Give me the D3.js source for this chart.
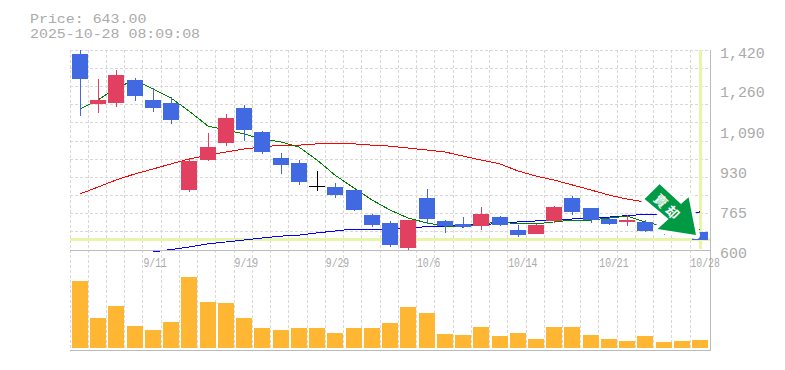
<!DOCTYPE html>
<html>
<head>
<meta charset="utf-8">
<script src="https://cdn.jsdelivr.net/npm/d3@7"></script>
<style>
    body { margin: 0; background: #fff; }
    svg { display: block; }
    text { font-family: "Liberation Mono", monospace; fill: #aaa; }
    .title { font-size: 13px; }
    .yAxis text { font-size: 14px; }
    .xAxis text { font-size: 13px; }
</style>
</head>
<body>
<div id="chart_wrapper"></div>
<script>
const lastPrice = 643;
const priceTitle = "Price: 643.00";
const timeTitle = "2025-10-28 08:09:08";

const opens = [1404, 1199, 1203, 1297, 1215, 1203, 846, 969, 1039, 1182, 1084, 977, 957, 861, 858, 846, 743, 711, 608, 813, 719, 707, 698, 735, 682, 666, 719, 813, 772, 727, 715, 715, 682, 731, 674];
const closes = [1301, 1215, 1317, 1231, 1182, 1133, 965, 1022, 1141, 1092, 1002, 949, 879, 861, 825, 764, 702, 620, 723, 727, 698, 694, 748, 702, 661, 702, 776, 756, 723, 707, 723, 678, 690, 690, 643];
const highs = [1420, 1301, 1338, 1305, 1264, 1227, 973, 1080, 1158, 1195, 1088, 998, 969, 924, 875, 846, 748, 719, 723, 850, 723, 735, 776, 739, 702, 707, 780, 821, 772, 735, 743, 723, 690, 739, 674];
const lows = [1149, 1162, 1186, 1211, 1166, 1117, 838, 965, 1026, 1047, 994, 912, 867, 842, 813, 760, 694, 612, 600, 707, 670, 690, 682, 698, 653, 666, 711, 743, 711, 702, 698, 674, 662, 674, 643];
const volumes = [67, 30, 42, 22, 18, 26, 71, 46, 45, 30, 20, 18, 20, 20, 15, 20, 20, 25, 41, 35, 14, 13, 21, 12, 15, 9, 21, 21, 13, 9, 7, 12, 6, 7, 8];

const maShort = [1178, 1215, 1264, 1297, 1260, 1223, 1170, 1108, 1092, 1076, 1055, 1043, 1022, 969, 907, 854, 805, 764, 731, 711, 698, 694, 707, 715, 707, 707, 715, 723, 723, 731, 739, 715, 698, 686, 682];
const maMid = [830, 858, 887, 912, 932, 953, 973, 989, 1002, 1014, 1022, 1030, 1030, 1035, 1035, 1035, 1030, 1026, 1018, 1010, 1002, 985, 969, 953, 924, 903, 887, 867, 846, 825, 809, 797, 780, 764, 752];
const maLong = [null, null, null, null, 592, 602, 612, 625, 633, 641, 649, 657, 661, 670, 678, 686, 686, 686, 690, 696, 698, 702, 704, 709, 715, 719, 723, 727, 731, 735, 741, 746, 748, 752, 756];

const dateTicks = [4, 9, 14, 19, 24, 29, 34];
const dateLabels = ["9/11", "9/19", "9/29", "10/6", "10/14", "10/21", "10/28"];
const priceTicks = [1420, 1260, 1090, 930, 765, 600];

const upColor = "#e24060";
const downColor = "#4169e1";
const dojiColor = "#000";
const gridColor = "#d8d8d8";
const axisColor = "#bbb";
const crossColor = "#e6f5a8";

const width = 785, height = 370;
const plotLeft = 70, plotRight = 710, plotTop = 50, plotBottom = 250, volumeBottom = 350;

let svg = d3.select("#chart_wrapper").append("svg")
    .attr("width", width)
    .attr("height", height);

let indexes = d3.range(opens.length);
let xScale = d3.scaleBand().domain(indexes).range([plotLeft, plotLeft + 18.24 * opens.length]);
let priceScale = d3.scaleLinear().domain([600, 1420]).range([plotBottom, plotTop]);
let volumeScale = d3.scaleLinear().domain([0, 100]).range([348, 248]);
let gridScale = d3.scaleLinear().domain([0, 11]).range([plotTop, plotBottom]);

let barLeft = function (i) { return Math.round(xScale(i)) + 2; };
let barCenter = function (i) { return barLeft(i) + 8; };

// Title, stretched to the wide glyphs of the original
svg.append("text").attr("class", "title").attr("x", 30).attr("y", 23)
    .attr("textLength", priceTitle.length * 8.95).attr("lengthAdjust", "spacingAndGlyphs").text(priceTitle);
svg.append("text").attr("class", "title").attr("x", 30).attr("y", 38)
    .attr("textLength", timeTitle.length * 8.95).attr("lengthAdjust", "spacingAndGlyphs").text(timeTitle);

// Grid
let grid = svg.append("g")
    .attr("stroke", gridColor)
    .attr("stroke-dasharray", "3,2")
    .attr("shape-rendering", "crispEdges");
grid.selectAll(".vGrid")
    .data(indexes)
    .enter().append("line")
    .attr("x1", d => Math.floor(xScale(d)) + 0.5)
    .attr("x2", d => Math.floor(xScale(d)) + 0.5)
    .attr("y1", plotTop)
    .attr("y2", volumeBottom);
grid.selectAll(".hGrid")
    .data(d3.range(11))
    .enter().append("line")
    .attr("x1", plotLeft)
    .attr("x2", plotRight)
    .attr("y1", d => Math.floor(gridScale(d) + 0.1) + 0.5)
    .attr("y2", d => Math.floor(gridScale(d) + 0.1) + 0.5);

// Current price crosshair
svg.append("rect")
    .attr("x", plotLeft)
    .attr("y", priceScale(lastPrice) - 1.5)
    .attr("width", plotRight - plotLeft)
    .attr("height", 3)
    .attr("fill", crossColor);
svg.append("rect")
    .attr("x", barCenter(indexes.length - 1) - 1)
    .attr("y", plotTop)
    .attr("width", 3)
    .attr("height", 199)
    .attr("fill", crossColor);

// Moving averages
let maLine = d3.line()
    .defined(d => d[1] !== null)
    .x(d => barCenter(d[0]))
    .y(d => priceScale(d[1]));
let maSeries = [[maMid, "#f00"], [maLong, "#00f"], [maShort, "#008000"]];
for (let s of maSeries) {
    svg.append("path")
        .datum(s[0].map((v, i) => [i, v]))
        .attr("d", maLine)
        .attr("fill", "none")
        .attr("stroke", s[1])
        .attr("stroke-width", 1)
        .attr("shape-rendering", "crispEdges");
}

// Candles
let candleColor = function (i) {
    if (opens[i] === closes[i]) return dojiColor;
    return closes[i] > opens[i] ? upColor : downColor;
};
let candles = svg.append("g").attr("shape-rendering", "crispEdges");
candles.selectAll(".wick")
    .data(indexes)
    .enter().append("rect")
    .attr("x", d => barCenter(d))
    .attr("width", 1)
    .attr("y", d => Math.round(priceScale(highs[d])))
    .attr("height", d => Math.round(priceScale(lows[d])) - Math.round(priceScale(highs[d])))
    .attr("fill", candleColor);
candles.selectAll(".body")
    .data(indexes)
    .enter().append("rect")
    .attr("x", barLeft)
    .attr("width", 16)
    .attr("y", d => Math.round(priceScale(Math.max(opens[d], closes[d]))))
    .attr("height", d => Math.max(1, Math.round(priceScale(Math.min(opens[d], closes[d]))) - Math.round(priceScale(Math.max(opens[d], closes[d])))))
    .attr("fill", candleColor);

// Volume
svg.append("g").attr("shape-rendering", "crispEdges")
    .selectAll("rect")
    .data(volumes)
    .enter().append("rect")
    .attr("x", (d, i) => barLeft(i))
    .attr("width", 16)
    .attr("y", d => volumeScale(d))
    .attr("height", d => volumeScale(0) - volumeScale(d))
    .attr("fill", "#ffb733");

// Frame
let frame = svg.append("g").attr("stroke", axisColor).attr("shape-rendering", "crispEdges");
frame.append("line").attr("x1", plotLeft).attr("x2", plotRight).attr("y1", plotBottom + 0.5).attr("y2", plotBottom + 0.5);
frame.append("line").attr("x1", plotLeft).attr("x2", plotRight).attr("y1", volumeBottom + 0.5).attr("y2", volumeBottom + 0.5);
frame.append("line").attr("x1", plotRight + 0.5).attr("x2", plotRight + 0.5).attr("y1", plotTop).attr("y2", volumeBottom + 1);

// Axes
let yAxis = d3.axisRight(priceScale).tickValues(priceTicks).tickSize(0).tickPadding(0).tickFormat(d3.format(","));
let yAxisGroup = svg.append("g")
    .attr("class", "yAxis")
    .attr("transform", "translate(720,0)")
    .call(yAxis);
yAxisGroup.select(".domain").remove();
yAxisGroup.selectAll("text")
    .attr("dy", 7.5)
    .attr("textLength", d => d3.format(",")(d).length * 8.95)
    .attr("lengthAdjust", "spacingAndGlyphs");

let xAxis = d3.axisBottom(d3.scaleLinear().domain([0, indexes.length - 1]).range([barCenter(0), barCenter(indexes.length - 1)]))
    .tickValues(dateTicks)
    .tickSize(0)
    .tickPadding(0)
    .tickFormat((d, i) => dateLabels[i]);
let xAxisGroup = svg.append("g")
    .attr("class", "xAxis")
    .attr("transform", "translate(0,256)")
    .call(xAxis);
xAxisGroup.select(".domain").remove();
// squeeze the labels sideways, the original font is narrow and tall
xAxisGroup.selectAll("text")
    .attr("text-anchor", "start")
    .attr("x", 0)
    .attr("y", 0)
    .attr("dy", 10.5)
    .attr("transform", "translate(-10,0) scale(0.75,1)");

// Signal arrow, anchored on the last candle
let arrowPoints = [[-36.4, -50.7], [-51.4, -36], [-27.4, -16], [-38.4, -6], [0, 0], [-7.4, -37.7], [-15, -31]];
let arrow = svg.append("g")
    .attr("transform", "translate(" + (barCenter(34) - 4) + "," + (priceScale(lastPrice) - 4.5) + ")");
arrow.append("polygon")
    .attr("points", arrowPoints.join(" "))
    .attr("fill", "#fff")
    .attr("stroke", "#fff")
    .attr("stroke-width", 8)
    .attr("stroke-linejoin", "round");
arrow.append("polygon")
    .attr("points", arrowPoints.join(" "))
    .attr("fill", "#009944");
arrow.append("text")
    .attr("transform", "translate(-35,-34.3) rotate(45)")
    .attr("text-anchor", "middle")
    .attr("dy", 5)
    .style("font-family", "'Noto Sans CJK KR'")
    .style("font-size", "13px")
    .style("font-weight", "bold")
    .style("fill", "#fff")
    .text("賣");
arrow.append("text")
    .attr("transform", "translate(-23.4,-22.7) rotate(45)")
    .attr("text-anchor", "middle")
    .attr("dy", 5)
    .style("font-family", "'Noto Sans CJK KR'")
    .style("font-size", "13px")
    .style("font-weight", "bold")
    .style("fill", "#fff")
    .text("却");
</script>
</body>
</html>
